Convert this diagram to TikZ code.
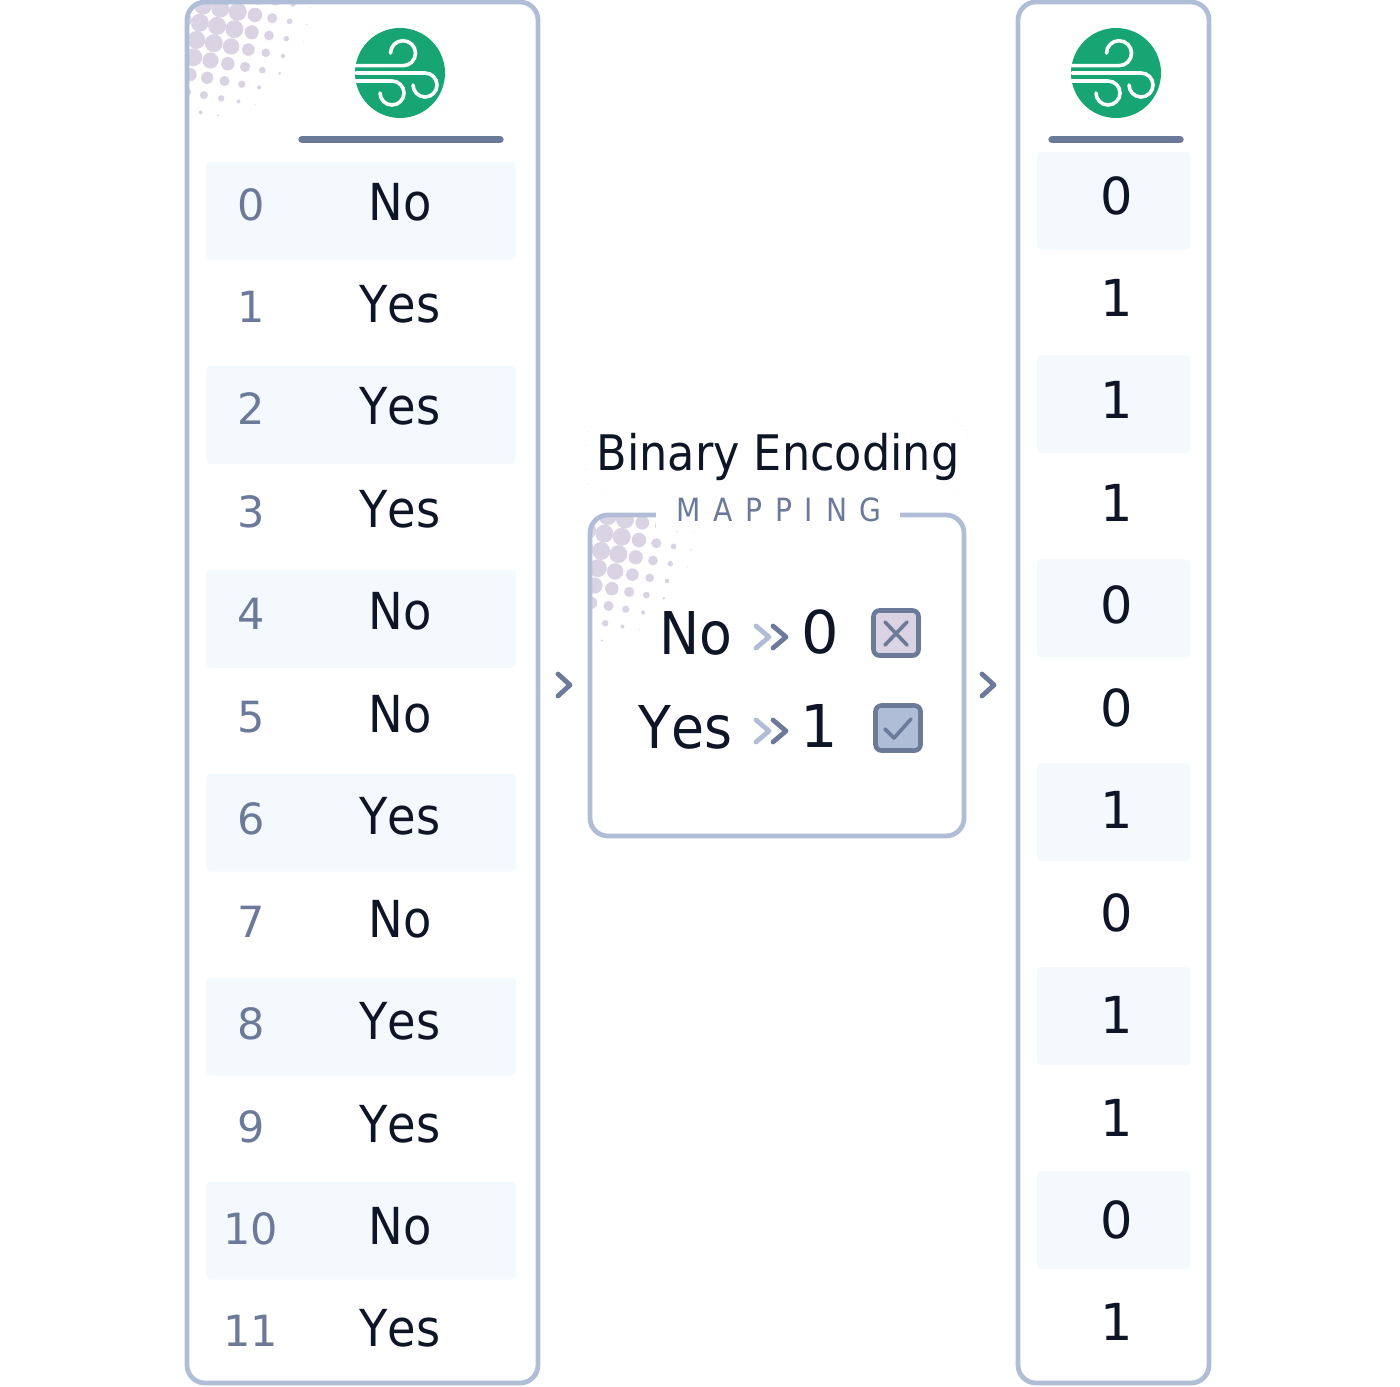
\documentclass[tikz,border=0pt]{standalone}
\usepackage{fontspec}
\setmainfont[FakeStretch=0.91,Kerning=Off]{DejaVu Sans}
\newfontfamily\digitfont{DejaVu Sans}
\newfontfamily\spacedfont[FakeStretch=0.88,LetterSpace=40]{DejaVu Sans}
\usetikzlibrary{positioning}
\definecolor{panelline}{HTML}{B0BDD6}
\definecolor{slate}{HTML}{6B7A99}
\definecolor{inkdark}{HTML}{0D1526}
\definecolor{bandfill}{HTML}{F4F9FD}
\definecolor{windgreen}{HTML}{17A673}
\definecolor{dotlilac}{HTML}{DAD3E4}
\tikzset{
  panelbox/.style = { draw = panelline, line width = 2.4pt, rounded corners = 9pt, inner sep = 0pt },
  band/.style = { fill = bandfill, rounded corners = 2pt, inner sep = 0pt, minimum height = 49pt },
  idxtext/.style = { anchor = base, inner sep = 0pt, text = slate, font = \digitfont\fontsize{21.5}{24}\selectfont },
  valtext/.style = { anchor = base, inner sep = 0pt, text = inkdark, font = \fontsize{25.5}{28}\selectfont },
  enctext/.style = { anchor = base, inner sep = 0pt, text = inkdark, font = \digitfont\fontsize{25.5}{28}\selectfont },
  maptext/.style = { anchor = base, inner sep = 0pt, text = inkdark, font = \fontsize{29.5}{32}\selectfont },
  mapdigit/.style = { anchor = base, inner sep = 0pt, text = inkdark, font = \digitfont\fontsize{29.5}{32}\selectfont },
  rulebar/.style = { draw = slate, line width = 3.7pt, line cap = round },
  chevron/.style = { draw = slate, line width = 2.4pt, line cap = round, line join = round },
  checkbox/.style = { draw = slate, line width = 2.3pt, rounded corners = 3pt, minimum size = 22.5pt, inner sep = 0pt },
  pics/windicon/.style = { code = {
    \node (#1) [circle, fill = windgreen, minimum size = 45pt, inner sep = 0pt] at (0,0) {};
    \draw [white, line width = 1.8pt, line cap = round]
      (-44,-7.3) -- (3,-7.3) arc (90:-180:12.5)
      (-44,0) -- (25,0) arc (-90:180:12)
      (-44,8) -- (-8,8) arc (-90:180:12);
  } },
  pics/halftone/.style = { code = {
    \foreach \i in {-5,...,4} {
      \foreach \j in {-3,...,7} {
        \pgfmathsetmacro{\dotx}{65 + \i*17.3 - \j*3.3}
        \pgfmathsetmacro{\doty}{10 + \i*3.2 + \j*17.3}
        \pgfmathsetmacro{\dotr}{min(9, 0.125*(124 - veclen(\dotx,\doty)))}
        \ifdim \dotr pt > 0.4pt
          \fill [dotlilac] (\dotx,\doty) circle (\dotr);
        \fi
      }
    }
  } }
}
\begin{document}
\begin{tikzpicture}[x = 0.5pt, y = -0.5pt]
  \useasboundingbox (0,0) rectangle (1400,1386);

  % left table
  \begin{scope}
    \clip [rounded corners = 9pt] (187,2) rectangle (538,1383);
    \pic at (190,5) {halftone};
  \end{scope}
  \node (panelleft) [panelbox, minimum width = 175.5pt, minimum height = 690.5pt] at (362.5,692.5) {};
  \pic at (400,73) {windicon = iconleft};
  \draw [rulebar] (302,139.5) -- (500,139.5);
  \foreach \row in {0,2,...,10}
    \node (bandleft\row) [band, minimum width = 155pt] at (361, 211 + \row*101.95) {};
  \foreach \row/\val in {0/No,1/Yes,2/Yes,3/Yes,4/No,5/No,6/Yes,7/No,8/Yes,9/Yes,10/No,11/Yes} {
    \node (idx\row) [idxtext] at (251, 220 + \row*102.45) {\row};
    \node (val\row) [valtext] at (400, 220 + \row*102.45) {\val};
  }

  % mapping box
  \begin{scope}
    \clip [rounded corners = 9pt] (590,515) rectangle (964,836);
    \pic at (574,530) {halftone};
  \end{scope}
  \node (mapbox) [panelbox, minimum width = 187pt, minimum height = 160.5pt] at (777,675.5) {};
  \node (titlebox) [draw = panelline!25, dotted, rounded corners = 9pt, minimum width = 191pt, minimum height = 36pt, inner sep = 0pt] at (777,458) {};
  \node (title) [anchor = base, inner sep = 0pt, text = inkdark, font = \fontsize{24.5}{27}\selectfont] at (778,470) {Binary Encoding};
  \node (maphead) [fill = white, minimum width = 122pt, minimum height = 20pt, inner sep = 0pt] at (778,511) {};
  \node (mapword) [anchor = base, inner sep = 0pt, text = slate, font = \spacedfont\fontsize{16}{18}\selectfont] at (779,521) {MAPPING};

  \node (mapno) [maptext, anchor = base east] at (733,654) {No};
  \node (mapzero) [mapdigit] at (820,653) {0};
  \node (mapyes) [maptext, anchor = base east] at (733,748) {Yes};
  \node (mapone) [mapdigit] at (819,747) {1};

  \foreach \rowy in {637,731} {
    \draw [chevron, panelline] (756,\rowy-11) -- (769,\rowy) -- (756,\rowy+11);
    \draw [chevron] (773,\rowy-11) -- (786,\rowy) -- (773,\rowy+11);
  }

  \node (boxcross) [checkbox, fill = dotlilac] at (896,633) {};
  \draw [chevron, line width = 1.8pt] (885,622) -- (907,645) (907,622) -- (885,645);
  \node (boxcheck) [checkbox, fill = panelline] at (898,728) {};
  \draw [chevron, line width = 1.8pt] (885,729) -- (894,738) -- (911,719);

  % chevrons between the panels
  \draw [chevron] (558,674) -- (570,685) -- (558,696);
  \draw [chevron] (982,674) -- (994,685) -- (982,696);

  % right table
  \node (panelright) [panelbox, minimum width = 95.5pt, minimum height = 690.5pt] at (1113.5,692.5) {};
  \pic at (1116,73) {windicon = iconright};
  \draw [rulebar] (1052,139.5) -- (1180,139.5);
  \foreach \row in {0,2,...,10}
    \node (bandright\row) [band, minimum width = 76.5pt] at (1113.5, 200.5 + \row*101.95) {};
  \foreach \row/\val in {0/0,1/1,2/1,3/1,4/0,5/0,6/1,7/0,8/1,9/1,10/0,11/1}
    \node (enc\row) [enctext] at (1117, 214 + \row*102.45) {\val};
\end{tikzpicture}
\end{document}
